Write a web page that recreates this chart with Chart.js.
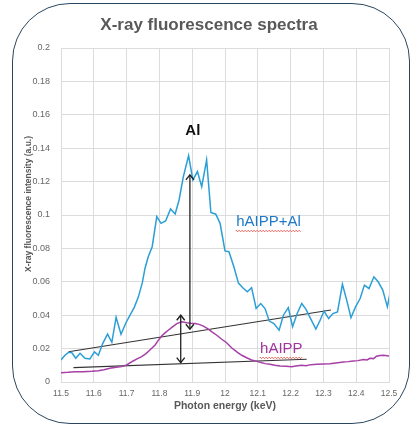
<!DOCTYPE html>
<html>
<head>
<meta charset="utf-8">
<script src="https://cdn.jsdelivr.net/npm/chart.js@4"></script>
<style>
  html, body { margin: 0; padding: 0; background: #ffffff; }
  #wrap { position: relative; width: 414px; height: 432px; overflow: hidden; }
  #frame { position: absolute; left: 12px; top: 3px; width: 398px; height: 421px;
           border: 1.5px solid #2b4760; border-radius: 58px; box-sizing: border-box; }
  canvas { position: absolute; left: 0; top: 0; }
</style>
</head>
<body>
<div id="wrap">
  <div id="frame"></div>
  <canvas id="c" width="414" height="432"></canvas>
</div>
<script>
// ---- data ----
const titleText = "X-ray fluorescence spectra";
const xTitle = "Photon energy (keV)";
const yTitle = "X-ray fluorescence intensity (a.u.)";

const xTicks = [11.5, 11.6, 11.7, 11.8, 11.9, 12.0, 12.1, 12.2, 12.3, 12.4, 12.5];
const yTicks = [0, 0.02, 0.04, 0.06, 0.08, 0.1, 0.12, 0.14, 0.16, 0.18, 0.2];

// hAIPP+Al (blue)
const blueE = [11.500, 11.512, 11.522, 11.532, 11.545, 11.558, 11.573, 11.588, 11.602, 11.614,
               11.627, 11.642, 11.655, 11.668, 11.683, 11.698, 11.713, 11.724, 11.736, 11.748,
               11.756, 11.766, 11.778, 11.792, 11.805, 11.819, 11.834, 11.848, 11.860, 11.873,
               11.889, 11.902, 11.916, 11.929, 11.944, 11.957, 11.972, 11.985, 12.000, 12.012,
               12.027, 12.041, 12.055, 12.068, 12.081, 12.095, 12.109, 12.122, 12.135, 12.149,
               12.165, 12.178, 12.193, 12.206, 12.220, 12.234, 12.247, 12.261, 12.277, 12.290,
               12.302, 12.316, 12.329, 12.343, 12.358, 12.371, 12.384, 12.398, 12.412, 12.425,
               12.439, 12.454, 12.467, 12.481, 12.495, 12.502];
const blueI = [0.0132, 0.0160, 0.0176, 0.0178, 0.0142, 0.0172, 0.0142, 0.0138, 0.0180, 0.0160,
               0.0230, 0.0287, 0.0238, 0.0387, 0.0286, 0.0355, 0.0410, 0.0450, 0.0510, 0.0595,
               0.0680, 0.0750, 0.0810, 0.0990, 0.0950, 0.0964, 0.1036, 0.1006, 0.1090, 0.1230,
               0.1355, 0.1210, 0.1260, 0.1170, 0.1330, 0.1015, 0.1005, 0.0950, 0.0785, 0.0780,
               0.0690, 0.0592, 0.0563, 0.0540, 0.0565, 0.0440, 0.0470, 0.0440, 0.0365, 0.0350,
               0.0310, 0.0400, 0.0445, 0.0331, 0.0410, 0.0470, 0.0435, 0.0380, 0.0317, 0.0370,
               0.0425, 0.0380, 0.0410, 0.0420, 0.0585, 0.0490, 0.0385, 0.0450, 0.0500, 0.0580,
               0.0560, 0.0630, 0.0600, 0.0550, 0.0450, 0.0520];

// hAIPP (purple)
const purpleE = [11.500, 11.521, 11.543, 11.567, 11.594, 11.614, 11.631, 11.649, 11.668, 11.685,
                 11.700, 11.720, 11.732, 11.746, 11.759, 11.771, 11.787, 11.796, 11.807, 11.817,
                 11.827, 11.840, 11.853, 11.868, 11.883, 11.896, 11.909, 11.921, 11.934, 11.947,
                 11.959, 11.975, 11.990, 12.005, 12.020, 12.036, 12.051, 12.066, 12.081, 12.095,
                 12.107, 12.122, 12.137, 12.152, 12.168, 12.186, 12.203, 12.216, 12.234, 12.247,
                 12.262, 12.280, 12.299, 12.320, 12.338, 12.361, 12.375, 12.391, 12.405, 12.422,
                 12.433, 12.442, 12.453, 12.462, 12.473, 12.483, 12.500];
const purpleI = [0.0056, 0.0058, 0.0062, 0.0062, 0.0064, 0.0068, 0.0074, 0.0082, 0.0088, 0.0092,
                 0.0102, 0.0126, 0.0138, 0.0152, 0.0170, 0.0192, 0.0222, 0.0248, 0.0275, 0.0294,
                 0.0310, 0.0330, 0.0350, 0.0360, 0.0355, 0.0352, 0.0350, 0.0345, 0.0335, 0.0320,
                 0.0302, 0.0280, 0.0256, 0.0235, 0.0205, 0.0180, 0.0160, 0.0145, 0.0132, 0.0125,
                 0.0118, 0.0110, 0.0106, 0.0100, 0.0096, 0.0094, 0.0092, 0.0096, 0.0100, 0.0098,
                 0.0104, 0.0106, 0.0108, 0.0110, 0.0114, 0.0120, 0.0122, 0.0126, 0.0128, 0.0134,
                 0.0132, 0.0142, 0.0140, 0.0154, 0.0158, 0.0160, 0.0156];

// baselines (black lines)
const upperBaseE = [11.523, 12.323];
const upperBaseI = [0.0181, 0.0431];
const lowerBaseE = [11.538, 12.249];
const lowerBaseI = [0.0086, 0.0136];

// double arrows [energy, from, to]
const bigArrow = [11.893, 0.0316, 0.124];
const smallArrow = [11.865, 0.0116, 0.040];

// annotation labels [text, energy, intensity]
const labelAl = ["Al", 11.902, 0.1503];
const labelBlue = ["hAIPP+Al", 12.034, 0.0958];
const labelPurple = ["hAIPP", 12.107, 0.0198];

// ---- build chart ----
const FONT = "'Liberation Sans', Arial, Helvetica, sans-serif";
const zip = (xs, ys) => xs.map((x, i) => ({ x: x, y: ys[i] }));

const overlay = {
  id: 'overlay',
  afterDatasetsDraw(chart) {
    const ctx = chart.ctx;
    const xs = chart.scales.x, ys = chart.scales.y;
    const px = v => xs.getPixelForValue(v), py = v => ys.getPixelForValue(v);

    // arrows
    function arrow(a) {
      const x = px(a[0]), y1 = py(a[1]), y2 = py(a[2]);
      ctx.save();
      ctx.strokeStyle = '#222'; ctx.lineWidth = 1.3;
      ctx.beginPath(); ctx.moveTo(x, y1); ctx.lineTo(x, y2); ctx.stroke();
      ctx.lineWidth = 1.4;
      ctx.beginPath();
      ctx.moveTo(x - 4, y2 + 5); ctx.lineTo(x, y2); ctx.lineTo(x + 4, y2 + 5);
      ctx.moveTo(x - 4, y1 - 5); ctx.lineTo(x, y1); ctx.lineTo(x + 4, y1 - 5);
      ctx.stroke();
      ctx.restore();
    }
    arrow(bigArrow);
    arrow(smallArrow);

    // labels
    function wavy(x0, x1, y) {
      ctx.save();
      ctx.strokeStyle = '#e8443a'; ctx.lineWidth = 0.8;
      ctx.beginPath();
      let up = true;
      ctx.moveTo(x0, y);
      for (let x = x0; x <= x1; x += 1.5) { ctx.lineTo(x, y + (up ? -0.8 : 0.8)); up = !up; }
      ctx.stroke();
      ctx.restore();
    }
    ctx.save();
    ctx.textBaseline = 'middle';
    ctx.font = "bold 15px " + FONT; ctx.fillStyle = '#111';
    ctx.textAlign = 'center';
    ctx.fillText(labelAl[0], px(labelAl[1]), py(labelAl[2]));

    ctx.textAlign = 'left';
    ctx.font = "15px " + FONT;
    ctx.fillStyle = '#1f78c8';
    let x = px(labelBlue[1]), y = py(labelBlue[2]);
    ctx.fillText(labelBlue[0], x, y);
    wavy(x, x + ctx.measureText(labelBlue[0]).width, y + 9);

    ctx.fillStyle = '#a0359e';
    x = px(labelPurple[1]); y = py(labelPurple[2]);
    ctx.fillText(labelPurple[0], x, y);
    wavy(x, x + ctx.measureText(labelPurple[0]).width, y + 9);
    ctx.restore();
  },
  afterDraw(chart) {
    const ctx = chart.ctx, a = chart.chartArea;
    ctx.save();
    ctx.fillStyle = '#595959';
    ctx.textAlign = 'center'; ctx.textBaseline = 'middle';
    ctx.font = "bold 17px " + FONT;
    ctx.fillText(titleText, 209, 25);
    ctx.font = "bold 10.5px " + FONT;
    ctx.fillText(xTitle, (a.left + a.right) / 2, 406);
    ctx.translate(29, 204);
    ctx.rotate(-Math.PI / 2);
    ctx.font = "bold 8.5px " + FONT;
    ctx.fillText(yTitle, 0, 0);
    ctx.restore();
  }
};

const fmt = v => String(Math.round(v * 1000) / 1000);

new Chart(document.getElementById('c'), {
  type: 'line',
  data: {
    datasets: [
      { data: zip(blueE, blueI), borderColor: '#2a9fd6', borderWidth: 1.5, pointRadius: 0, tension: 0, fill: false },
      { data: zip(purpleE, purpleI), borderColor: '#a63fa6', borderWidth: 1.5, pointRadius: 0, tension: 0, fill: false },
      { data: zip(upperBaseE, upperBaseI), borderColor: '#333', borderWidth: 1.1, pointRadius: 0, fill: false },
      { data: zip(lowerBaseE, lowerBaseI), borderColor: '#333', borderWidth: 1.1, pointRadius: 0, fill: false }
    ]
  },
  options: {
    responsive: false,
    animation: false,
    devicePixelRatio: 1,
    layout: { padding: { left: 0, right: 25, top: 48, bottom: 0 } },
    plugins: { legend: { display: false }, tooltip: { enabled: false }, title: { display: false } },
    scales: {
      x: {
        type: 'linear', min: 11.5, max: 12.5,
        afterBuildTicks: s => { s.ticks = xTicks.map(v => ({ value: v })); },
        afterFit: s => { s.height = 50; },
        grid: { color: '#dcdcdc', lineWidth: 1, drawTicks: false },
        border: { color: '#dcdcdc' },
        ticks: { color: '#666', font: { family: FONT, size: 8.5 }, padding: 7, maxRotation: 0, callback: v => fmt(v) }
      },
      y: {
        type: 'linear', min: 0, max: 0.2,
        afterBuildTicks: s => { s.ticks = yTicks.map(v => ({ value: v })); },
        afterFit: s => { s.width = 61; },
        grid: { color: '#dcdcdc', lineWidth: 1, drawTicks: false },
        border: { color: '#dcdcdc' },
        ticks: { color: '#666', font: { family: FONT, size: 9 }, padding: 11, callback: v => fmt(v) }
      }
    }
  },
  plugins: [overlay]
});
</script>
</body>
</html>
